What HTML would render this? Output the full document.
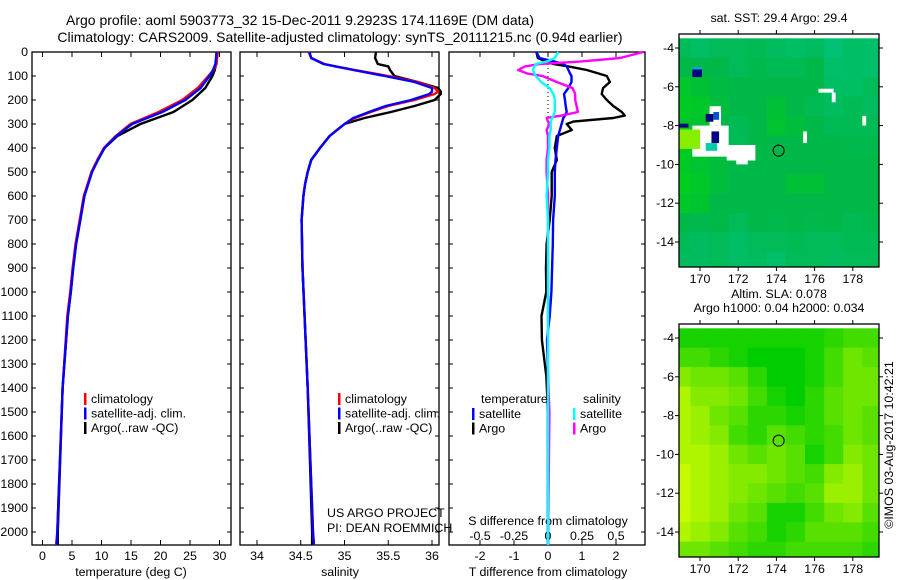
<!DOCTYPE html>
<html><head><meta charset="utf-8">
<style>
html,body{margin:0;padding:0;background:#fff;}
svg{display:block;font-family:"Liberation Sans",sans-serif;}
text{font-size:12.4px;fill:#000;}
</style></head>
<body>
<svg id="fig" width="900" height="580" viewBox="0 0 900 580" xmlns="http://www.w3.org/2000/svg">
<text x="300" y="25" text-anchor="middle" style="font-size:14px">Argo profile: aoml 5903773_32 15-Dec-2011 9.2923S 174.1169E (DM data)</text>
<text x="340" y="42" text-anchor="middle" style="font-size:14px">Climatology: CARS2009. Satellite-adjusted climatology: synTS_20111215.nc (0.94d earlier)</text>
<g id="g1"></g>
<g id="g2"></g>
<g id="g3"></g>
<g id="m1"></g>
<g id="m2"></g>
<text transform="translate(893,445) rotate(-90)" text-anchor="middle">©IMOS 03-Aug-2017 10:42:21</text>
</svg>
<script>
// ---------- data ----------
const depthT = [0,50,75,100,150,200,250,300,350,400,450,500,600,700,800,900,1000,1100,1400,2000,2054];
const tempClim = [29.7,29.5,29,28.1,26.3,23.7,19.7,14.9,12.4,10.4,9.3,8.3,7,6.3,5.6,5.1,4.7,4.2,3.4,2.5,2.3];
const tempSat  = [29.5,29.3,28.9,28.3,26.8,24.2,20.3,15.2,12.5,10.5,9.4,8.4,7.1,6.4,5.7,5.2,4.8,4.3,3.4,2.5,2.4];
const tempArgo = [29.5,29.4,29.2,28.8,27.6,25.4,22.2,16.6,12.7,10.5,9.3,8.3,7.1,6.4,5.7,5.2,4.8,4.3,3.4,2.6,2.6];
const depthS = [0,25,50,60,75,100,125,150,165,175,200,225,250,275,300,350,400,450,500,550,600,700,900,1400,2000,2054];
const salClim = [34.59,34.62,34.77,34.9,35.12,35.5,35.84,36.03,36.07,36.03,35.8,35.5,35.3,35.12,35.0,34.83,34.72,34.62,34.58,34.55,34.53,34.51,34.52,34.58,34.64,34.65];
const salSat  = [34.6,34.62,34.76,34.9,35.1,35.46,35.8,36.0,36.0,35.97,35.76,35.47,35.28,35.1,35.0,34.83,34.72,34.62,34.58,34.55,34.53,34.51,34.52,34.58,34.64,34.65];
const salArgo = [35.36,35.35,35.38,35.5,35.52,35.57,35.84,36.07,36.1,36.1,36.03,35.8,35.53,35.23,35.0,34.83,34.72,34.62,34.58,34.55,34.53,34.51,34.52,34.58,34.63,34.63];
const depthD = [0,25,40,50,60,75,90,100,125,150,175,200,225,250,265,275,290,300,325,350,400,450,500,600,700,800,900,1000,1100,1200,1350,1500,2054];
const dTsat  = [-0.34,-0.25,0.2,0.45,0.55,0.6,0.65,0.69,0.69,0.6,0.47,0.5,0.52,0.55,0.5,0.45,0.42,0.4,0.35,0.3,0.26,0.22,0.2,0.2,0.15,0.14,0.12,0.1,0.05,-0.03,0,0,0];
const dTargo = [-0.34,-0.3,-0.05,0.15,0.6,1.14,1.5,1.73,1.82,1.62,1.58,1.73,1.92,2.17,2.26,1.92,0.74,0.55,0.7,0.26,0.2,0.26,0.11,0.11,0.05,-0.04,-0.06,-0.05,-0.19,-0.18,-0.05,0,0];
const dSsat  = [0.076,0.05,-0.01,-0.09,-0.1,-0.11,-0.1,-0.09,-0.05,0.01,0.04,0.05,0.05,0.05,0.04,0.03,0.02,0.02,0.02,0.01,0.01,0,0,-0.01,0,0,0,0,0,0,0,0,0];
const dSargo = [0.7,0.53,0.235,-0.06,-0.17,-0.22,-0.15,-0.04,0.064,0.18,0.2,0.2,0.21,0.22,0.1,-0.01,0.0,0.01,-0.01,0,0,-0.01,-0.01,0,0,0,0,0,0,0,0,0.01,0];
const depthTicks = [0,100,200,300,400,500,600,700,800,900,1000,1100,1200,1300,1400,1500,1600,1700,1800,1900,2000];
const tempTicks = [0,5,10,15,20,25,30];
const salTicks = [34,34.5,35,35.5,36];
const dTTicks = [-2,-1,0,1,2];
const dSTicks = [-0.5,-0.25,0,0.25,0.5];
const dSTickLabels = ["-0.5","-0.25","0","0.25","0.5"];
// maps: rows lat -4..-15, cols lon 169..179
const mapLons = [169,170,171,172,173,174,175,176,177,178,179];
const mapLats = [-4,-5,-6,-7,-8,-9,-10,-11,-12,-13,-14,-15];
const sstGrid = [
[0.3,0.5,0.3,0.3,0.2,0.4,0.5,0.4,0.8,0.5,0.6],
[0,0,0,0.3,0.1,0.2,0.2,0,0.6,0.5,0.6],
[-0.5,-0.3,-0.1,0,0,0,0,0,0.5,0.5,0.3],
[-0.6,-0.5,-0.2,0,0,-0.3,0,0.2,0.4,0.2,0.4],
[-0.5,-0.4,0,0.2,0,-0.4,-0.2,0,0.2,0.2,0.2],
[-0.6,-0.6,0,0.3,0,0,0,0,0,0.1,0.1],
[-0.6,-0.4,-0.2,0,0,0,0,0,0,0,0],
[-0.7,-0.5,-0.2,0,0,0,-0.3,-0.3,0,0,0],
[-0.5,-0.4,0,0,0,0,0,0,0,0,0],
[0,0.1,0,0.3,0,0.1,0,0.1,0,0.2,0.1],
[0.2,0.4,0.3,0.5,0.3,0.3,0.2,0.3,0.3,0.2,0.2],
[0.4,0.4,0.3,0.5,0.4,0.6,0.3,0.3,0.4,0.3,0.3]];
const slaGrid = [
[0.1,0.1,0.1,0.1,0.1,0.1,0.1,0.1,0.2,0.3,0.3],
[0.3,0.3,0.2,0.1,0,0,0,0.1,0.3,0.5,0.4],
[0.6,0.5,0.5,0.4,0.2,0,0,0.1,0.3,0.5,0.5],
[0.8,0.6,0.6,0.5,0.3,0.1,0,0.2,0.4,0.5,0.5],
[0.8,0.7,0.5,0.4,0.2,0.2,0.1,0.2,0.4,0.5,0.4],
[0.8,0.7,0.6,0.3,0.2,0.4,0.3,0.2,0.3,0.5,0.4],
[0.8,0.8,0.7,0.5,0.4,0.5,0.4,0.1,0.3,0.6,0.5],
[0.9,0.8,0.7,0.6,0.6,0.5,0.4,0.3,0.6,0.7,0.5],
[0.9,0.8,0.7,0.6,0.5,0.4,0.3,0.4,0.7,0.7,0.5],
[0.9,0.8,0.7,0.5,0.4,0.1,0.1,0.3,0.5,0.6,0.4],
[0.8,0.7,0.6,0.4,0.3,0.1,0.2,0.4,0.4,0.4,0.3],
[0.5,0.5,0.4,0.3,0.2,0.2,0.3,0.3,0.3,0.3,0.2]];
// SST map special patches [lon0,lat0,lon1,lat1,color]
const sstPatches = [
[169.6,-8.0,171.5,-9.6,"#ffffff"],[171.4,-9.0,172.9,-9.8,"#ffffff"],[171.9,-9.7,172.5,-10.0,"#ffffff"],
[170.5,-7.0,171.1,-8.0,"#ffffff"],[168.9,-8.2,170.0,-9.2,"#88ee00"],
[169.6,-5.1,170.1,-5.5,"#000080"],[170.6,-8.3,171.0,-8.9,"#000080"],[170.3,-7.4,170.7,-7.8,"#000080"],
[168.9,-7.9,169.4,-8.1,"#000080"],[170.7,-7.3,171.0,-7.7,"#0055cc"],[170.3,-8.9,170.9,-9.3,"#00ccaa"],
[169.6,-5.0,170.1,-5.1,"#00aaff"],
[176.2,-6.1,177.0,-6.3,"#ffffff"],[176.9,-6.3,177.1,-6.8,"#ffffff"],[175.4,-8.3,175.6,-8.9,"#ffffff"],[178.5,-7.5,178.7,-8.0,"#ffffff"]];
const argoLon = 174.1169, argoLat = -9.2923;
const lonTicks = [170,172,174,176,178];
const latTicks = [-4,-6,-8,-10,-12,-14];

// ---------- helpers ----------
const NS = "http://www.w3.org/2000/svg";
function mk(parent, tag, attrs){ const e=document.createElementNS(NS,tag); for(const k in attrs) e.setAttribute(k,attrs[k]); parent.appendChild(e); return e; }
const Y0=52, YS=0.24, YB=545;
const yD = d => Y0 + d*YS;

function panel(g, x0, x1){
  const r = mk(g,'rect',{x:x0,y:Y0,width:x1-x0,height:YB-Y0,fill:'none',stroke:'#000','stroke-width':1.3});
  
  
  depthTicks.forEach(d=>{
    mk(g,'line',{x1:x0,x2:x0+4,y1:yD(d),y2:yD(d),stroke:'#000'});
    mk(g,'line',{x1:x1-4,x2:x1,y1:yD(d),y2:yD(d),stroke:'#000'});
  });
}
function xticks(g, ticks, labels, xf, ly, top){
  ticks.forEach((t,i)=>{
    const x=xf(t);
    mk(g,'line',{x1:x,x2:x,y1:YB,y2:YB-5,stroke:'#000'});
    if(top) mk(g,'line',{x1:x,x2:x,y1:Y0,y2:Y0+5,stroke:'#000'});
    if(ly){ const tx=mk(g,'text',{x:x,y:ly,'text-anchor':'middle'}); tx.textContent=labels[i];
      
       }
  });
}
function line(g, xs, ds, xf, color, name){
  const pts = xs.map((v,i)=>xf(v).toFixed(1)+','+yD(ds[i]).toFixed(1)).join(' ');
  const p = mk(g,'polyline',{points:pts,fill:'none',stroke:color,'stroke-width':2.4,'stroke-linejoin':'round'});
  
  
}
function legend(g, x, y, items){
  items.forEach((it,i)=>{
    mk(g,'rect',{x:x,y:y+i*14.5-10,width:2.5,height:12,fill:it[1]});
    const t=mk(g,'text',{x:x+7,y:y+i*14.5}); t.textContent=it[0];
    
    
  });
}
function txt(g,x,y,s,anchor,name){ const t=mk(g,'text',{x:x,y:y,'text-anchor':anchor||'start'}); t.textContent=s;
  
  
  return t; }

// ---------- panel 1: temperature ----------
const g1=document.getElementById('g1');
const xT = t => 42.5 + t*5.9;
panel(g1,32,231);
depthTicks.forEach(d=>{ const t=mk(g1,'text',{x:28,y:yD(d)+4,'text-anchor':'end'}); t.textContent=d;
  
   });
xticks(g1,tempTicks,tempTicks,xT,560,true);
txt(g1,131,576,'temperature (deg C)','middle','x-axis-title');
line(g1,tempArgo,depthT,xT,'#000','temp-argo-line');
line(g1,tempClim,depthT,xT,'#f00','temp-climatology-line');
line(g1,tempSat,depthT,xT,'#00f','temp-satellite-line');
legend(g1,84,403,[['climatology','#f00'],['satellite-adj. clim.','#00f'],['Argo(..raw -QC)','#000']]);

// ---------- panel 2: salinity ----------
const g2=document.getElementById('g2');
const xS = s => 257 + (s-34)*87.5;
panel(g2,240,439);
xticks(g2,salTicks,salTicks,xS,560,true);
txt(g2,340,576,'salinity','middle','x-axis-title');
line(g2,salArgo,depthS,xS,'#000','sal-argo-line');
line(g2,salClim,depthS,xS,'#f00','sal-climatology-line');
line(g2,salSat,depthS,xS,'#00f','sal-satellite-line');
legend(g2,338,403,[['climatology','#f00'],['satellite-adj. clim.','#00f'],['Argo(..raw -QC)','#000']]);
txt(g2,327,517,'US ARGO PROJECT','start','project-label');
txt(g2,327,532,'PI: DEAN ROEMMICH','start','pi-label');

// ---------- panel 3: differences ----------
const g3=document.getElementById('g3');
const xdT = t => 548 + t*34;
const xdS = s => 548 + s*136;
panel(g3,449,645);
mk(g3,'line',{x1:xdT(0),x2:xdT(0),y1:Y0,y2:YB,stroke:'#000','stroke-dasharray':'1,3'});
xticks(g3,dTTicks,dTTicks,xdT,560,true);
dSTicks.forEach((s,i)=>{ txt(g3,xdS(s),540,dSTickLabels[i],'middle','s-tick-label'); });
txt(g3,548,525,'S difference from climatology','middle','s-axis-title');
txt(g3,548,576,'T difference from climatology','middle','x-axis-title');
line(g3,dTargo,depthD,xdT,'#000','t-diff-argo-line');
line(g3,dTsat,depthD,xdT,'#00f','t-diff-satellite-line');
line(g3,dSargo,depthD,xdS,'#f0f','s-diff-argo-line');
line(g3,dSsat,depthD,xdS,'#0ff','s-diff-satellite-line');
txt(g3,481,403,'temperature','start','legend-title-temperature');
txt(g3,583,403,'salinity','start','legend-title-salinity');
legend(g3,472,418,[['satellite','#00f'],['Argo','#000']]);
legend(g3,573,418,[['satellite','#0ff'],['Argo','#f0f']]);

// ---------- maps ----------
function lerp(a,b,t){return a.map((v,i)=>Math.round(v+(b[i]-v)*t));}
function sstColor(v){ const g=[0,215,10], m=[0,184,72], t=[0,200,150];
  const c = v<0 ? lerp(m,g,-v) : lerp(m,t,v*0.7); return 'rgb('+c.join(',')+')'; }
function slaColor(v){ const c=lerp([0,205,0],[220,255,0],v); return 'rgb('+c.join(',')+')'; }
function drawMap(g, top, grid, colorFn, patches, title1, title2, id){
  const L=679,R=879,B=top+233;
  const xL = lon => 700 + (lon-170)*19.1;
  const yL = lat => top+14 + (-4-lat)*19.4;
  const cp=mk(g,'clipPath',{id:id}); mk(cp,'rect',{x:L,y:top,width:R-L,height:B-top});
  const cg=mk(g,'g',{'clip-path':'url(#'+id+')'});
  grid.forEach((row,ri)=>row.forEach((v,ci)=>{
    const x=xL(mapLons[ci]-0.5), y=yL(mapLats[ri]+0.5);
    const c=mk(cg,'rect',{x:x,y:y,width:19.6,height:19.9,fill:colorFn(v)});
    
    
  }));
  patches.forEach(p=>{
    const r=mk(cg,'rect',{x:xL(p[0]),y:yL(p[1]),width:xL(p[2])-xL(p[0]),height:yL(p[3])-yL(p[1]),fill:p[4]});
    
    
  });
  const fr=mk(g,'rect',{x:L,y:top,width:R-L,height:B-top,fill:'none',stroke:'#000','stroke-width':1.3});
  
  
  lonTicks.forEach(l=>{ const x=xL(l);
    mk(g,'line',{x1:x,x2:x,y1:top-4,y2:top,stroke:'#000'}); mk(g,'line',{x1:x,x2:x,y1:B,y2:B+4,stroke:'#000'});
    txt(g,x,B+16,String(l),'middle','lon-tick-label'); });
  latTicks.forEach(l=>{ const y=yL(l);
    mk(g,'line',{x1:L-4,x2:L,y1:y,y2:y,stroke:'#000'}); mk(g,'line',{x1:R,x2:R+4,y1:y,y2:y,stroke:'#000'});
    txt(g,L-5,y+4,String(l),'end','lat-tick-label'); });
  const c=mk(g,'circle',{cx:xL(argoLon),cy:yL(argoLat),r:5.5,fill:'none',stroke:'#000','stroke-width':1});
  
  
  if(title2){ txt(g,779,top-26,title1,'middle','map-title'); txt(g,779,top-12,title2,'middle','map-subtitle'); }
  else txt(g,779,top-12,title1,'middle','map-title');
}
drawMap(document.getElementById('m1'),34,sstGrid,sstColor,sstPatches,'sat. SST: 29.4  Argo: 29.4',null,'c1');
drawMap(document.getElementById('m2'),324,slaGrid,slaColor,[],'Altim. SLA: 0.078','Argo h1000: 0.04 h2000: 0.034','c2');
</script>
</body></html>
